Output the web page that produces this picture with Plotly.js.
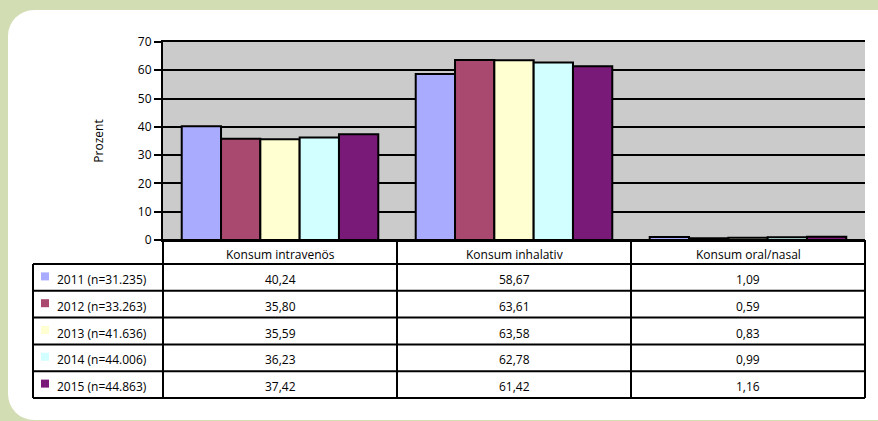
<!DOCTYPE html>
<html>
<head>
<meta charset="utf-8">
<script src="https://cdn.plot.ly/plotly-3.0.1.min.js"></script>
<style>
  html, body { margin:0; padding:0; background:#d3ddb3; width:878px; height:421px; overflow:hidden; }
  #panel { position:absolute; left:8px; top:10px; width:900px; height:410px; background:#ffffff; border-radius:26px; }
  #chart { position:absolute; left:0; top:0; width:878px; height:421px; }
</style>
</head>
<body>
<div id="panel"></div>
<div id="chart"></div>
<script>
// ---- data ----
const categories = ['Konsum intravenös', 'Konsum inhalativ', 'Konsum oral/nasal'];
const seriesNames = ['2011 (n=31.235)', '2012 (n=33.263)', '2013 (n=41.636)', '2014 (n=44.006)', '2015 (n=44.863)'];
const values2011 = [40.24, 58.67, 1.09];
const values2012 = [35.80, 63.61, 0.59];
const values2013 = [35.59, 63.58, 0.83];
const values2014 = [36.23, 62.78, 0.99];
const values2015 = [37.42, 61.42, 1.16];
const yTicks = [0, 10, 20, 30, 40, 50, 60, 70];
const yTitle = 'Prozent';

const seriesValues = [values2011, values2012, values2013, values2014, values2015];
const colors = ['#a9abff', '#a9496f', '#ffffd2', '#d2ffff', '#7a1a78'];

// ---- layout geometry (pixels) ----
const W = 878, H = 421;
const plotL = 163, plotR = 865, plotT = 42, plotB = 240;
const fontFam = '"Open Sans", "Noto Sans", sans-serif';
const px = x => (x - plotL) / (plotR - plotL);
const py = y => (plotB - y) / (plotB - plotT);

const traces = seriesNames.map((name, i) => ({
  type: 'bar',
  name: name,
  x: categories,
  y: seriesValues[i],
  marker: { color: colors[i], line: { color: '#000000', width: 2 } },
  hoverinfo: 'x+y+name'
}));

// table geometry
const labelL = 33;
const headerTop = plotB, headerBot = 264;
const rowH = (398 - headerBot) / seriesNames.length;
const colW = (plotR - plotL) / categories.length;
const textShift = -2;
const shapes = [];
const annotations = [];
const lineStyle = { color: '#000000', width: 2 };
function hline(x0, x1, y) {
  shapes.push({ type: 'line', xref: 'paper', yref: 'paper', x0: px(x0), x1: px(x1), y0: py(y), y1: py(y), line: lineStyle });
}
function vline(x, y0, y1) {
  shapes.push({ type: 'line', xref: 'paper', yref: 'paper', x0: px(x), x1: px(x), y0: py(y0), y1: py(y1), line: lineStyle });
}
const tableBot = headerBot + rowH * seriesNames.length;
hline(plotL, plotR, headerTop);
for (let r = 0; r <= seriesNames.length; r++) hline(labelL, plotR, headerBot + r * rowH);
vline(labelL, headerBot, tableBot);
for (let c = 0; c <= categories.length; c++) vline(plotL + c * colW, headerTop, tableBot);

categories.forEach((cat, c) => {
  annotations.push({
    xref: 'paper', yref: 'paper', x: px(plotL + (c + 0.5) * colW), y: py((headerTop + headerBot) / 2),
    yshift: textShift,
    text: cat, showarrow: false, xanchor: 'center', yanchor: 'middle',
    font: { family: fontFam, size: 12, color: '#000000' }
  });
});
seriesNames.forEach((name, r) => {
  const yc = headerBot + (r + 0.5) * rowH;
  shapes.push({ type: 'rect', xref: 'paper', yref: 'paper', x0: px(41), x1: px(49), y0: py(yc - 5), y1: py(yc + 3), fillcolor: colors[r], line: { width: 0 } });
  annotations.push({
    xref: 'paper', yref: 'paper', x: px(55), y: py(yc), yshift: textShift, text: name, showarrow: false,
    xanchor: 'left', yanchor: 'middle', font: { family: fontFam, size: 12, color: '#000000' }
  });
  seriesValues[r].forEach((v, c) => {
    annotations.push({
      xref: 'paper', yref: 'paper', x: px(plotL + (c + 0.5) * colW), y: py(yc), yshift: textShift,
      text: v.toFixed(2).replace('.', ','), showarrow: false, xanchor: 'center', yanchor: 'middle',
      font: { family: fontFam, size: 12, color: '#000000' }
    });
  });
});

const layout = {
  width: W, height: H,
  margin: { l: plotL, r: W - plotR, t: plotT, b: H - plotB, pad: 0 },
  paper_bgcolor: 'rgba(0,0,0,0)',
  plot_bgcolor: '#cbcbcb',
  showlegend: false,
  barmode: 'group',
  bargap: 0.16,
  bargroupgap: 0,
  font: { family: fontFam, size: 12, color: '#000000' },
  xaxis: { showticklabels: false, ticks: '', showline: true, mirror: true, linecolor: '#000000', linewidth: 2,
           showgrid: false, zeroline: false, fixedrange: true },
  yaxis: {
    range: [0, 70], tickvals: yTicks, ticktext: yTicks.map(String),
    showgrid: true, gridcolor: '#000000', gridwidth: 2,
    showline: true, linecolor: '#000000', linewidth: 2,
    ticks: 'outside', ticklen: 7, tickwidth: 2, tickcolor: '#000000',
    zeroline: false,
    tickfont: { family: fontFam, size: 12, color: '#000000' },
    title: { text: yTitle, standoff: 32, font: { family: fontFam, size: 12, color: '#000000' } }
  },
  shapes: shapes,
  annotations: annotations
};

Plotly.newPlot('chart', traces, layout, { displayModeBar: false, staticPlot: true });
</script>
</body>
</html>
